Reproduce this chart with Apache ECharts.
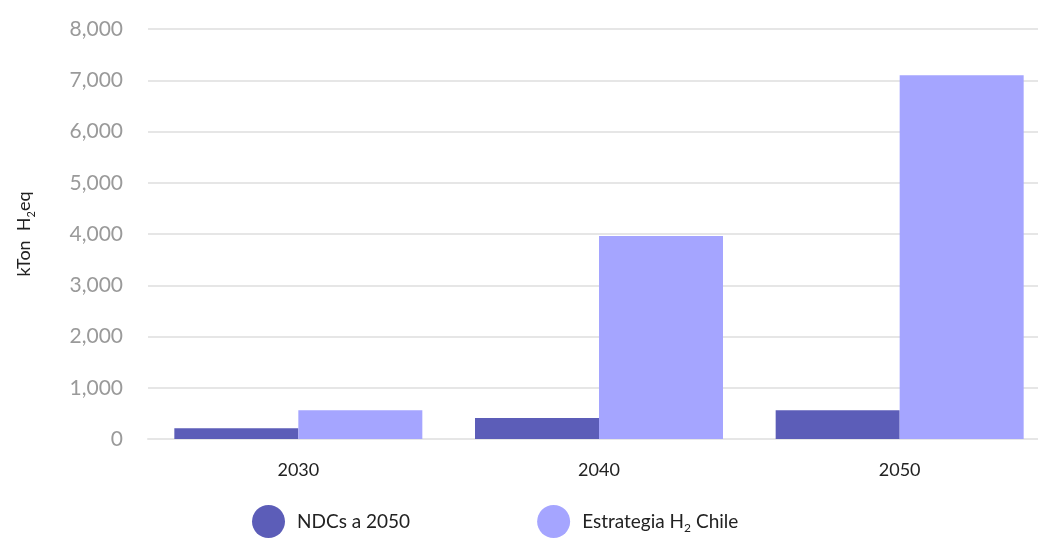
<!DOCTYPE html>
<html><head><meta charset="utf-8">
<script src="https://cdn.jsdelivr.net/npm/echarts@6/dist/echarts.min.js"></script>
<style>html,body{margin:0;padding:0;background:#fff;overflow:hidden;width:1038px;height:538px}#c{width:1052px;height:538px}</style>
</head><body><div id="c"></div>
<script>
const categories = ['2030', '2040', '2050'];
const ndcValues = [210, 410, 560];
const estrategiaValues = [560, 3960, 7100];
const seriesNames = ['NDCs a 2050', 'Estrategia H2 Chile'];
const yTicks = [0, 1000, 2000, 3000, 4000, 5000, 6000, 7000, 8000];

const chart = echarts.init(document.getElementById('c'));
chart.setOption({
  animation: false,
  textStyle: {fontFamily: 'Lato'},
  grid: {left: 148, top: 29, width: 902, height: 410, containLabel: false},
  legend: {
    top: 505, left: 252, padding: 0, icon: 'circle', itemWidth: 33, itemHeight: 33, itemGap: 127,
    data: seriesNames,
    formatter: function (n) { return n === 'Estrategia H2 Chile' ? 'Estrategia H{s|2} Chile' : n; },
    textStyle: {fontFamily: 'Lato', fontSize: 19, color: '#222', padding: [0, 0, 0, 7],
      rich: {s: {fontFamily: 'Lato', fontSize: 12, color: '#222', padding: [14, 0, 0, 0]}}}
  },
  xAxis: {
    type: 'category', data: categories,
    axisLine: {show: true, lineStyle: {color: '#e6e6e6', width: 2}},
    axisTick: {show: false},
    axisLabel: {fontFamily: 'Lato', fontSize: 18, color: '#222', margin: 22}
  },
  yAxis: {
    type: 'value', min: yTicks[0], max: yTicks[yTicks.length - 1], interval: 1000,
    name: 'kTon  H{s|2}eq', nameLocation: 'middle', nameGap: 111, nameRotate: 90,
    nameTextStyle: {fontFamily: 'Lato', fontSize: 18, color: '#222',
      rich: {s: {fontFamily: 'Lato', fontSize: 11, color: '#222', padding: [14, 0, 0, 0]}}},
    axisLine: {show: false}, axisTick: {show: false},
    splitLine: {lineStyle: {color: '#e6e6e6', width: 2}},
    axisLabel: {fontFamily: 'Lato', fontSize: 21, color: '#9a9a9a', margin: 25,
      formatter: function (v) { return v.toLocaleString('en-US'); }}
  },
  series: [
    {name: seriesNames[0], type: 'bar', data: ndcValues, barWidth: 124, barGap: '0%', itemStyle: {color: '#5c5db8'}},
    {name: seriesNames[1], type: 'bar', data: estrategiaValues, barWidth: 124, barGap: '0%', itemStyle: {color: '#a5a5ff'}}
  ]
});
</script></body></html>
